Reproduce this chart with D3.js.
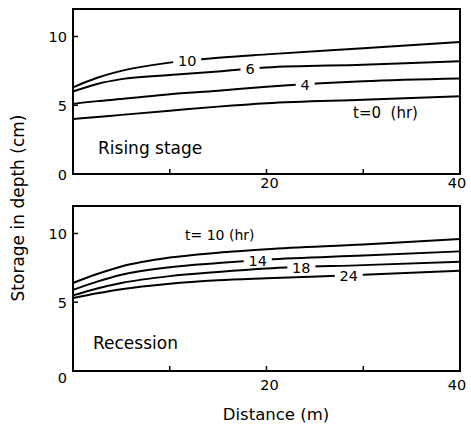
<!DOCTYPE html>
<html>
<head>
<meta charset="utf-8">
<script src="https://cdn.jsdelivr.net/npm/d3@7"></script>
<style>
  body { margin: 0; background: #fff; }
  text { font-family: "DejaVu Sans", sans-serif; fill: #000; }
</style>
</head>
<body>
<div id="chart"></div>
<script>
// distance (m) where each curve was read
const distance = [0, 2.5, 5, 10, 15, 20, 30, 40];

// rising stage, storage (cm)
const rise_t0  = [4.0, 4.15, 4.3, 4.6, 4.9, 5.15, 5.4, 5.65];
const rise_t4  = [5.1, 5.3, 5.45, 5.8, 6.05, 6.35, 6.75, 6.95];
const rise_t6  = [6.0, 6.55, 6.9, 7.2, 7.45, 7.75, 7.95, 8.2];
const rise_t10 = [6.3, 7.0, 7.5, 8.1, 8.45, 8.7, 9.15, 9.6];

// recession
const rec_t10 = [6.4, 7.05, 7.6, 8.25, 8.6, 8.85, 9.2, 9.6];
const rec_t14 = [5.9, 6.5, 7.0, 7.55, 7.85, 8.1, 8.4, 8.7];
const rec_t18 = [5.5, 6.0, 6.4, 6.9, 7.2, 7.45, 7.7, 7.95];
const rec_t24 = [5.3, 5.65, 5.95, 6.35, 6.6, 6.75, 7.0, 7.3];

const xTicks = [0, 20, 40];
const yTicks = [0, 5, 10];

const width = 471, height = 426;
const svg = d3.select("#chart").append("svg")
  .attr("width", width)
  .attr("height", height);

const x = d3.scaleLinear().domain([0, 40]).range([73, 460]);

const line = yScale => d3.line()
  .x((d, i) => x(distance[i]))
  .y(d => yScale(d))
  .curve(d3.curveMonotoneX);

function panel(top, bottom, series, title, titlePos, curveLabels, tLabel, off) {
  let y = d3.scaleLinear().domain([0, 12]).range([bottom, top]);
  let g = svg.append("g");

  series.forEach(s => {
    g.append("path")
      .attr("d", line(y)(s))
      .attr("fill", "none")
      .attr("stroke", "#000")
      .attr("stroke-width", 2);
  });

  // curve labels sit on the line with a white gap
  curveLabels.forEach(lb => {
    let s = series[lb.idx];
    let v = d3.scaleLinear().domain(distance).range(s)(lb.at);
    let w = lb.text.length * 9 + 10;
    g.append("rect")
      .attr("x", x(lb.at) - w / 2)
      .attr("y", y(v) - 6)
      .attr("width", w)
      .attr("height", 12)
      .attr("fill", "#fff");
    g.append("text")
      .attr("x", x(lb.at))
      .attr("y", y(v) + 5.5)
      .attr("text-anchor", "middle")
      .style("font-size", "14.5px")
      .text(lb.text);
  });

  // frame
  g.append("rect")
    .attr("x", x(0))
    .attr("y", top)
    .attr("width", x(40) - x(0))
    .attr("height", bottom - top)
    .attr("fill", "none")
    .attr("stroke", "#000")
    .attr("stroke-width", 2);

  // inward ticks
  [10, 20, 30].forEach(t => {
    g.append("line")
      .attr("x1", x(t)).attr("x2", x(t))
      .attr("y1", bottom).attr("y2", bottom - 5)
      .attr("stroke", "#000").attr("stroke-width", 1.5);
  });
  [5, 10].forEach(t => {
    g.append("line")
      .attr("x1", x(0)).attr("x2", x(0) + 5)
      .attr("y1", y(t)).attr("y2", y(t))
      .attr("stroke", "#000").attr("stroke-width", 1.5);
  });

  yTicks.forEach(t => {
    g.append("text")
      .attr("x", 67)
      .attr("y", y(t) + (t == 0 ? off.zero : 5.5))
      .attr("text-anchor", "end")
      .style("font-size", "14.5px")
      .text(t);
  });
  xTicks.slice(1).forEach(t => {
    g.append("text")
      .attr("x", x(t) + (t == 40 ? -3 : 3))
      .attr("y", bottom + off.x)
      .attr("text-anchor", "middle")
      .style("font-size", "14.5px")
      .text(t);
  });

  g.append("text")
    .attr("x", titlePos[0])
    .attr("y", titlePos[1])
    .style("font-size", "17px")
    .text(title);

  g.append("text")
    .attr("x", tLabel.x)
    .attr("y", tLabel.y)
    .style("font-size", tLabel.size)
    .attr("xml:space", "preserve")
    .text(tLabel.text);
}

panel(9, 174, [rise_t0, rise_t4, rise_t6, rise_t10], "Rising stage", [98, 154],
  [{idx: 3, at: 11.8, text: "10"}, {idx: 2, at: 18.3, text: "6"}, {idx: 1, at: 24, text: "4"}],
  {x: 353, y: 118, text: "t=0  (hr)", size: "15px"}, {zero: 6, x: 14});

panel(206, 371, [rec_t10, rec_t14, rec_t18, rec_t24], "Recession", [93, 349],
  [{idx: 1, at: 19.1, text: "14"}, {idx: 2, at: 23.6, text: "18"}, {idx: 3, at: 28.5, text: "24"}],
  {x: 185, y: 240, text: "t= 10 (hr)", size: "14px"}, {zero: 12, x: 19});

svg.append("text")
  .attr("x", 276)
  .attr("y", 420)
  .attr("text-anchor", "middle")
  .style("font-size", "16.5px")
  .text("Distance (m)");

svg.append("text")
  .attr("transform", "translate(24,208) rotate(-90)")
  .attr("text-anchor", "middle")
  .style("font-size", "17px")
  .text("Storage in depth (cm)");
</script>
</body>
</html>
